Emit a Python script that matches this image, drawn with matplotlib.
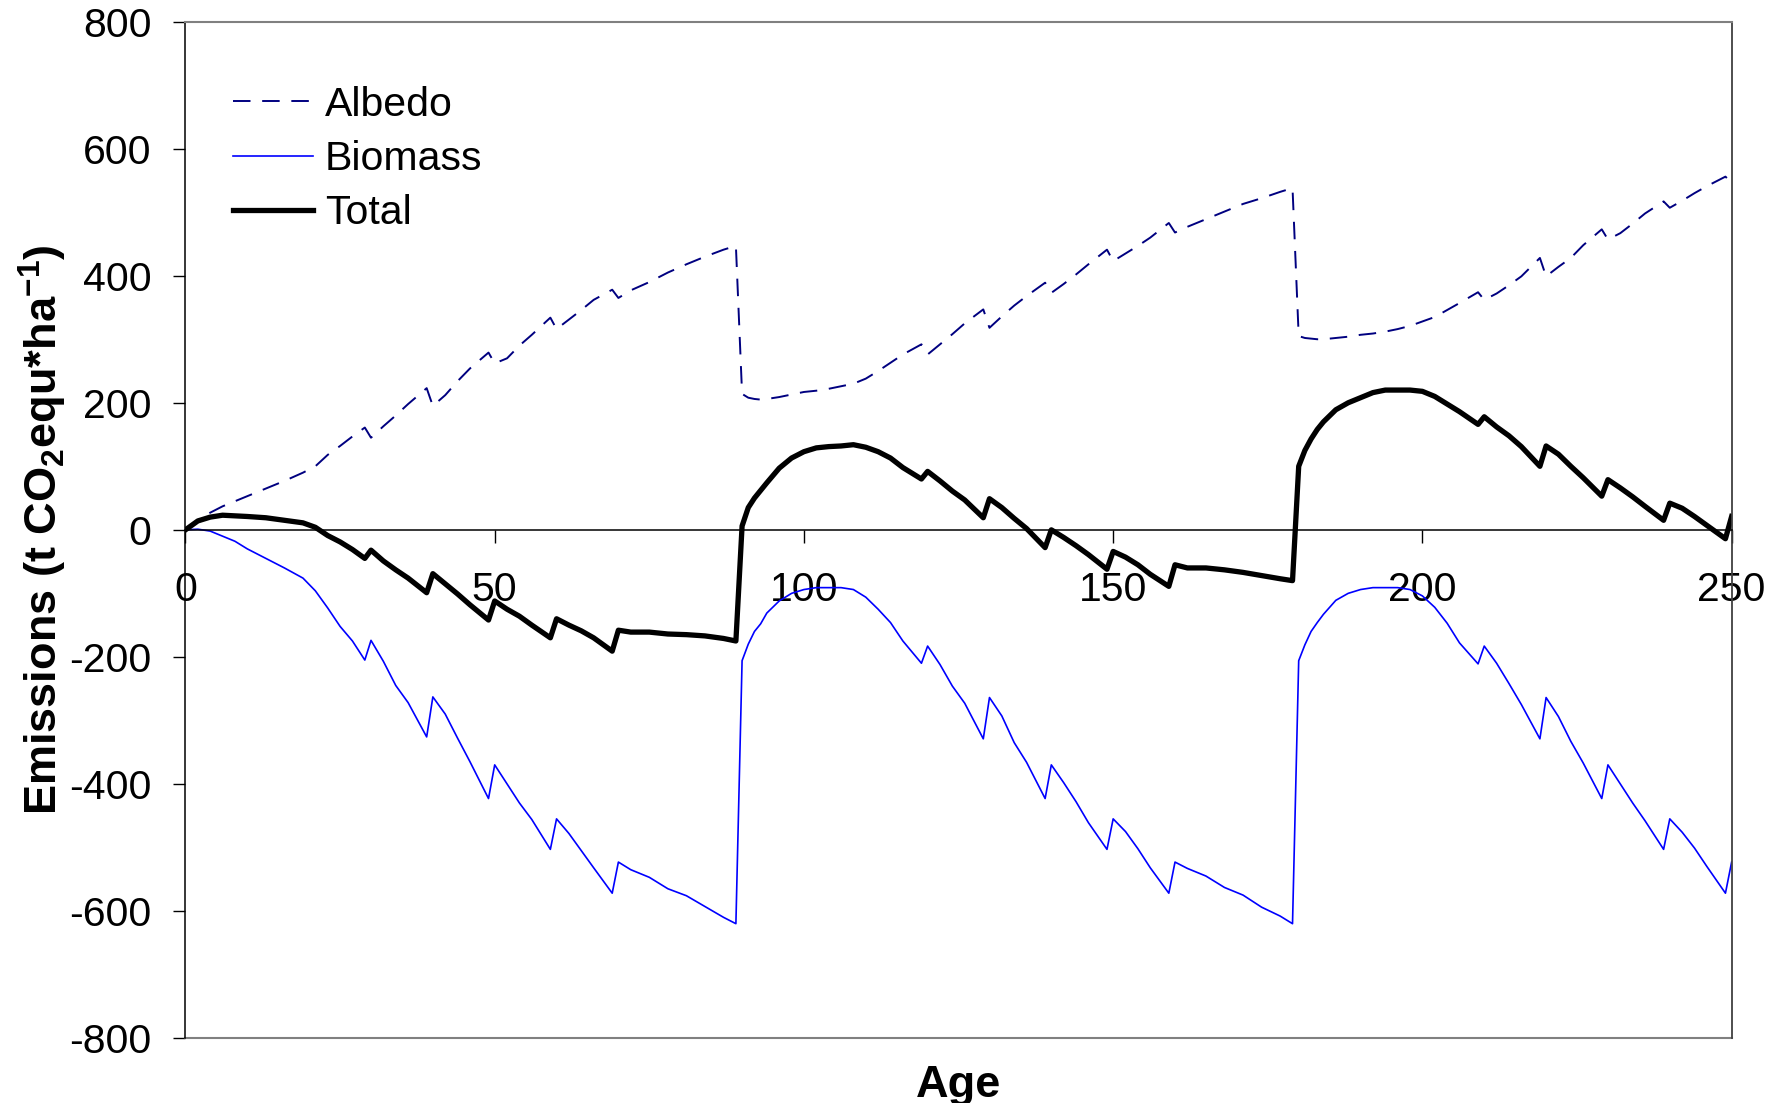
import matplotlib
matplotlib.use('Agg')
import matplotlib.pyplot as plt

plt.rcParams['font.family'] = ['Liberation Sans', 'DejaVu Sans']
plt.rcParams['mathtext.fontset'] = 'custom'
plt.rcParams['mathtext.rm'] = 'Liberation Sans'
plt.rcParams['mathtext.bf'] = 'Liberation Sans:bold'
plt.rcParams['axes.unicode_minus'] = False

age = [0, 2, 4, 6, 8, 10, 13, 16, 19, 21, 23, 25, 27, 29, 30, 32, 34, 36, 39,
       40, 42, 44, 46, 49, 50, 52, 54, 56, 59, 60, 62, 64, 66, 69, 70, 72, 75,
       78, 81, 84, 87, 89, 90, 91, 92, 93, 94, 96, 98, 100, 102, 104, 106, 108,
       110, 112, 114, 116, 119, 120, 122, 124, 126, 129, 130, 132, 134, 136,
       139, 140, 142, 144, 146, 149, 150, 152, 154, 156, 159, 160, 162, 165,
       168, 171, 174, 177, 179, 180, 181, 182, 183, 184, 186, 188, 190, 192,
       194, 196, 198, 200, 202, 204, 206, 209, 210, 212, 214, 216, 219, 220,
       222, 224, 226, 229, 230, 232, 234, 236, 239, 240, 242, 244, 246, 249,
       250]

albedo = [0, 15, 27, 37, 45, 53, 65, 77, 90, 100, 118, 132, 147, 161, 145,
          163, 180, 198, 223, 195, 212, 234, 254, 279, 262, 270, 290, 307, 334,
          316, 331, 346, 362, 378, 365, 377, 390, 405, 418, 430, 441, 447, 214,
          208, 206, 205, 206, 209, 213, 217, 219, 222, 226, 230, 238, 250, 263,
          276, 292, 276, 292, 308, 325, 347, 318, 336, 353, 368, 389, 373, 387,
          402, 418, 441, 423, 435, 447, 460, 483, 468, 477, 489, 501, 513, 522,
          532, 538, 305, 302, 301, 300, 300, 302, 304, 307, 309, 312, 316, 321,
          328, 335, 346, 357, 374, 362, 372, 385, 399, 428, 399, 414, 428, 448,
          473, 457, 467, 482, 498, 517, 507, 518, 530, 541, 556, 546]

biomass = [0, 1, -2, -10, -18, -30, -45, -60, -76, -96, -123, -152, -175, -205,
           -174, -207, -245, -272, -326, -263, -290, -328, -365, -423, -370,
           -400, -430, -456, -503, -455, -478, -505, -532, -572, -523, -535,
           -547, -565, -576, -593, -610, -620, -206, -180, -160, -148, -131,
           -112, -100, -94, -91, -91, -91, -94, -106, -125, -146, -175, -210,
           -183, -212, -246, -273, -329, -264, -293, -335, -366, -423, -370,
           -398, -428, -461, -503, -455, -475, -502, -532, -572, -523, -533,
           -545, -563, -575, -594, -608, -620, -206, -181, -160, -146, -133,
           -111, -100, -94, -91, -91, -91, -94, -104, -122, -147, -178, -211,
           -183, -210, -242, -275, -329, -264, -294, -333, -367, -423, -370,
           -400, -430, -458, -503, -455, -476, -501, -530, -572, -523]

total = [0, 14, 20, 23, 22, 21, 19, 15, 11, 4, -9, -19, -31, -45, -32, -49,
         -63, -76, -99, -69, -85, -101, -118, -142, -112, -125, -136, -150,
         -170, -140, -150, -159, -170, -191, -158, -161, -161, -164, -165,
         -167, -171, -175, 6, 35, 50, 62, 74, 97, 113, 123, 129, 131, 132, 134,
         130, 123, 113, 98, 80, 92, 77, 61, 47, 19, 49, 35, 18, 2, -28, 0, -12,
         -25, -39, -62, -34, -43, -55, -70, -89, -55, -60, -60, -63, -67, -72,
         -77, -80, 100, 125, 143, 158, 170, 189, 200, 208, 216, 220, 220, 220,
         218, 210, 198, 186, 166, 178, 162, 148, 131, 100, 132, 119, 100, 82,
         53, 79, 66, 52, 37, 15, 42, 34, 21, 7, -14, 21]

fig = plt.figure(figsize=(17.85, 11.03), dpi=100)
ax = fig.add_axes([0.1039, 0.0589, 0.8662, 0.9215])

ax.plot(age, albedo, color='#000080', lw=1.4, dashes=(9, 6), label='Albedo')
ax.plot(age, biomass, color='#0000FF', lw=1.2, label='Biomass')
ax.plot(age, total, color='black', lw=3.8, label='Total')

ax.set_xlim(0, 250)
ax.set_ylim(-800, 800)
ax.set_xticks(range(0, 251, 50))
ax.set_yticks(range(-800, 801, 200))

# x axis crosses at zero, outer frame kept grey
ax.spines['bottom'].set_position(('data', 0))
ax.spines['bottom'].set_linewidth(1.1)
ax.spines['left'].set_linewidth(1.1)
ax.spines['top'].set_color('#808080')
ax.spines['top'].set_linewidth(1.5)
ax.spines['right'].set_color('#404040')
ax.spines['right'].set_linewidth(1.3)
ax.axhline(-800, color='#808080', lw=1.5, clip_on=False)

ax.tick_params(axis='x', direction='out', length=9, width=1, pad=21, labelsize=29.5)
ax.tick_params(axis='y', direction='out', length=9, width=1, pad=15.5, labelsize=29.5)

ax.set_xlabel('Age', fontsize=32.5, fontweight='bold')
ax.xaxis.set_label_coords(0.5, -0.027)
ax.set_ylabel(r'Emissions (t CO$_\mathbf{2}$equ*ha$^\mathbf{-1}$)', fontsize=32.5, fontweight='bold')
ax.yaxis.set_label_coords(-0.075, 0.5)

ax.legend(loc='upper left', bbox_to_anchor=(0.031, 0.937), frameon=False,
          fontsize=29.5, handlelength=1.95, handletextpad=0.28, labelspacing=0.4,
          borderpad=0, borderaxespad=0)

plt.savefig('out.png', dpi=100)
